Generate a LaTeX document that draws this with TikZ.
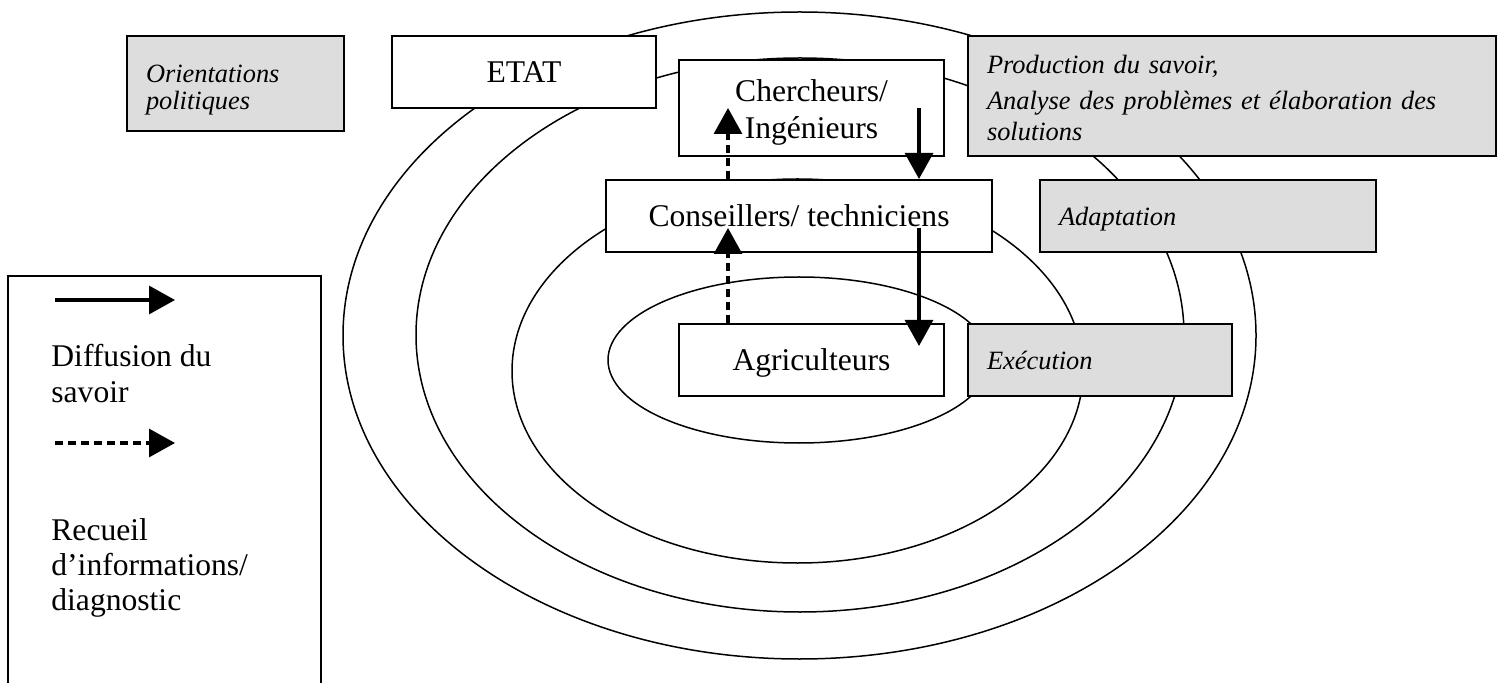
\documentclass[tikz,border=0pt]{standalone}
\usepackage{fontspec}
\setmainfont{Liberation Serif}[ItalicFont={Liberation Serif Italic},BoldFont={Liberation Serif Bold}]
\usetikzlibrary{arrows.meta,calc}
\definecolor{boxgray}{HTML}{DDDDDD}
\tikzset{
  ring/.style={line width=0.75pt},
  whitebox/.style={draw, line width=1pt, fill=white, inner sep=0pt,
    font=\fontsize{15.8}{18.5}\selectfont, align=center},
  graybox/.style={draw, line width=1pt, fill=boxgray, inner xsep=9.5pt, inner ysep=0pt,
    font=\fontsize{13.2}{15.5}\selectfont\itshape, align=left},
  diffarrow/.style={line width=1.6pt, -{Triangle[length=13pt,width=14pt]}},
  recarrow/.style={diffarrow, dash pattern=on 4pt off 2.5pt},
  legtext/.style={inner sep=0pt, anchor=base west, align=left,
    font=\fontsize{15.8}{17.5}\selectfont},
}
\begin{document}
\begin{tikzpicture}[x=0.5pt,y=-0.5pt]
\path[use as bounding box] (0,0) rectangle (1502,683);
\begin{scope}
\clip (0,0) rectangle (1502,683);
% rings
\draw[ring] (799.5,335.5) ellipse [x radius=456.5, y radius=323.5];
\draw[ring] (800,335) ellipse [x radius=384, y radius=277];
\draw[ring] (797.5,371) ellipse [x radius=285.5, y radius=192];
\draw[ring] (799,360) ellipse [x radius=191, y radius=83];
% boxes
\node[graybox, text width=89.5pt, minimum height=47.5pt,
  font=\fontsize{13.2}{13.5}\selectfont\itshape] (orient) at (235.5,83.5) {\rule{0pt}{15pt}Orientations\\politiques};
\node[whitebox, minimum width=132pt, minimum height=36pt] (etat) at (524,72) {ETAT};
\node[whitebox, minimum width=132.5pt, minimum height=48pt] (cherch) at (811.5,108) {\rule{0pt}{15pt}Chercheurs/\\Ingénieurs};
\node[graybox, text width=245pt, minimum height=60pt] (prod) at (1232,96) {\rule{0pt}{11.5pt}Production du savoir,\\[2.5pt]Analyse des problèmes et élaboration des\\solutions};
\node[whitebox, minimum width=193pt, minimum height=36pt] (conseil) at (799,216) {Conseillers/ techniciens};
\node[graybox, text width=149pt, minimum height=36pt, text depth=0pt] (adapt) at (1208,216) {Adaptation};
\node[whitebox, minimum width=132.5pt, minimum height=36pt, text depth=0pt] (agri) at (811.5,360) {Agriculteurs};
\node[graybox, text width=113pt, minimum height=36pt] (exec) at (1100,360) {Exécution};
% arrows
\coordinate (xr) at (919,0);
\coordinate (xl) at (728,0);
\draw[diffarrow] (cherch.center -| xr) -- (conseil.north -| xr);
\draw[diffarrow] ($(conseil.center -| xr)+(0,12)$) -- ($(agri.north -| xr)+(0,23)$);
\draw[recarrow] (conseil.north -| xl) -- (cherch.center -| xl);
\draw[recarrow] (agri.north -| xl) -- ($(conseil.center -| xl)+(0,12)$);
% legend
\node[draw, line width=1pt, minimum width=156.5pt, minimum height=215pt, inner sep=0pt, anchor=north west] (legend) at (7,275) {};
\coordinate (l1a) at (55,300);
\coordinate (l1b) at (175,300);
\coordinate (l2a) at (55,443);
\coordinate (l2b) at (175,443);
\draw[diffarrow] (l1a) -- (l1b);
\draw[recarrow] (l2a) -- (l2b);
\node[legtext] (ltxt1) at (51,402) {Diffusion du\\savoir};
\node[legtext] (ltxt2) at (51,610) {Recueil\\d’informations/\\diagnostic};
\end{scope}
\end{tikzpicture}
\end{document}
